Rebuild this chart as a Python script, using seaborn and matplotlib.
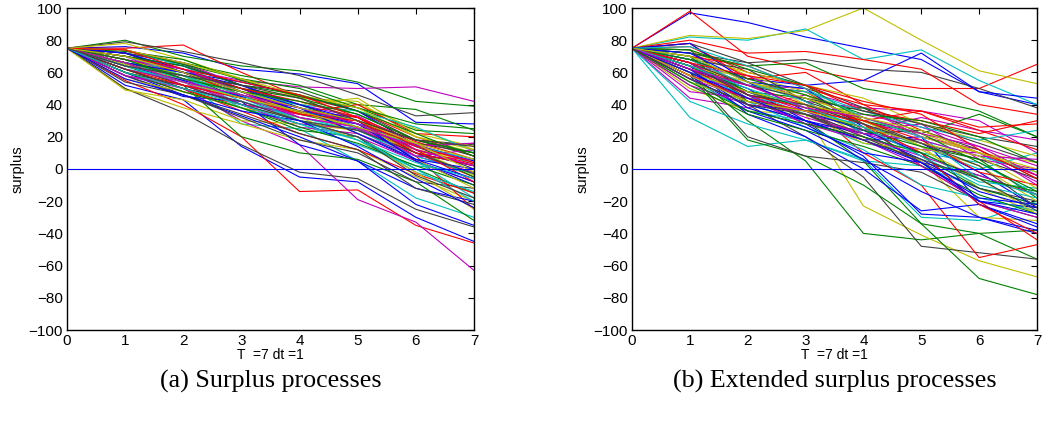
import numpy as np
import pandas as pd
import seaborn as sns
import matplotlib
matplotlib.use("Agg")
import matplotlib.pyplot as plt

sns.set_style("white")
plt.rcParams['font.family'] = ['Liberation Sans', 'DejaVu Sans']
plt.rcParams['text.color'] = 'black'
plt.rcParams['axes.labelcolor'] = 'black'
plt.rcParams['xtick.color'] = 'black'
plt.rcParams['ytick.color'] = 'black'

times = [0, 1, 2, 3, 4, 5, 6, 7]
start_value = 75
x_ticks = [0, 1, 2, 3, 4, 5, 6, 7]
y_ticks = [-100, -80, -60, -40, -20, 0, 20, 40, 60, 80, 100]
x_label = "T  =7 dt =1"
y_label = "surplus"
captions = ["(a) Surplus processes", "(b) Extended surplus processes"]
line_colors = [(0, 0, 1), (0, 0.5, 0), (1, 0, 0), (0, 0.75, 0.75),
               (0.75, 0, 0.75), (0.75, 0.75, 0), (0.25, 0.25, 0.25)]
zero_level = [0, 0]

# surplus paths, values at t = 1..7 (t = 0 is 75 for all)
paths_a = [
    [76, 72, 62, 59, 53, 29, 28], [80, 70, 64, 61, 54, 42, 39], [75, 77, 60, 45, 36, 20, 8],
    [68, 58, 40, 30, 25, 10, 2], [70, 62, 55, 51, 50, 51, 42], [65, 58, 50, 45, 40, 25, 12],
    [79, 73, 66, 58, 46, 33, 35], [52, 43, 14, -5, -8, -30, -45], [72, 66, 58, 52, 40, 37, 24],
    [55, 40, 20, -14, -13, -35, -46], [62, 55, 28, 25, 5, -18, -30], [60, 50, 30, 15, -19, -33, -63],
    [50, 38, 28, 18, 12, -5, -20], [50, 35, 15, -2, -6, -25, -36], [66, 60, 52, 38, 22, 5, -10],
    [62, 50, 38, 24, 20, 0, -15], [60, 48, 40, 35, 28, 10, -5], [70, 62, 45, 40, 26, 15, 3],
    [64, 56, 48, 35, 33, 15, 16], [78, 68, 56, 44, 42, 20, 10], [72, 65, 52, 48, 36, 18, 8],
    [58, 45, 42, 15, 5, -22, -35], [73, 68, 55, 45, 38, 24, 22], [66, 52, 46, 35, 30, 8, -25],
    [68, 55, 48, 38, 25, 5, -18], [74, 66, 52, 40, 32, 12, 2], [49, 43, 30, 28, 24, 12, 5],
    [70, 60, 46, 38, 30, 18, 15], [60, 46, 33, 20, 5, -12, -20], [64, 52, 20, 10, 6, -8, -32],
    [72, 60, 50, 35, 40, 22, 20], [62, 56, 38, 28, 15, 2, -2], [58, 50, 42, 30, 20, 5, -8],
    [64, 56, 50, 40, 44, 22, 14], [58, 46, 32, 18, 10, -8, -12], [72, 60, 54, 46, 36, 15, 5],
    [68, 58, 44, 34, 26, 12, -5], [62, 50, 36, 22, 12, -3, -15], [74, 64, 48, 40, 36, 26, 11],
    [66, 52, 40, 28, 25, 8, -2], [60, 52, 44, 35, 26, 12, -4], [66, 60, 48, 36, 30, 14, 0],
    [64, 55, 45, 38, 30, 5, -8], [74, 65, 56, 50, 38, 28, 25], [68, 60, 46, 36, 32, 17, 6],
    [66, 56, 44, 30, 20, -2, -14], [70, 56, 40, 26, 22, 8, 6], [56, 48, 38, 32, 18, -2, -25],
    [72, 60, 50, 40, 28, 16, 10], [70, 64, 52, 40, 30, 10, 2], [60, 48, 38, 26, 16, 2, -10],
    [64, 58, 46, 34, 30, 12, 3], [70, 58, 42, 32, 24, 8, -3], [62, 54, 40, 34, 28, 15, 4],
    [68, 58, 46, 36, 22, 6, -12], [54, 46, 34, 22, 12, -12, -22], [72, 62, 50, 38, 22, 6, 0],
    [66, 58, 50, 44, 34, 18, 10], [70, 62, 50, 42, 32, 12, -8], [64, 54, 44, 36, 28, 14, 6],
    [58, 52, 44, 32, 26, 8, 12], [74, 66, 56, 46, 38, 20, 12], [60, 52, 40, 30, 24, 10, -3],
    [66, 60, 48, 36, 28, 6, -6], [70, 64, 52, 46, 36, 22, 8], [62, 52, 44, 34, 30, 10, 2],
    [64, 58, 46, 30, 18, 0, -20], [68, 62, 48, 32, 26, 14, 16], [66, 54, 44, 36, 26, 16, 6],
    [62, 50, 42, 30, 20, -4, -18], [56, 46, 36, 30, 14, -6, -24], [68, 56, 48, 42, 34, 18, 10],
    [74, 62, 54, 46, 32, 14, 4], [60, 50, 40, 28, 18, 4, -6], [66, 54, 46, 38, 28, 12, 2],
    [70, 60, 48, 38, 30, 16, -2], [64, 58, 52, 44, 30, 18, 14],
]

paths_b = [
    [97, 91, 82, 75, 68, 48, 40], [70, 40, 30, 5, -34, -40, -56], [98, 70, 62, 55, 50, 50, 65],
    [82, 80, 87, 68, 74, 55, 40], [60, 52, 48, 38, 36, 30, 10], [83, 81, 86, 100, 80, 61, 53],
    [78, 66, 68, 62, 60, 50, 38], [68, 56, 52, 55, 72, 48, 44], [60, 30, 5, -40, -44, -40, -38],
    [80, 72, 73, 68, 62, 40, 34], [32, 14, 18, 5, 2, -12, -22], [44, 38, 46, 30, 20, 12, -10],
    [50, 36, 34, -23, -41, -57, -67], [64, 40, 20, -5, -48, -52, -56], [66, 46, 28, 8, -28, -30, -40],
    [58, 18, 8, -10, -34, -68, -78], [62, 52, 40, 10, -10, -55, -47], [42, 28, 18, 6, -30, -32, -20],
    [72, 58, 42, 38, 20, 10, -4], [74, 58, 40, 20, 5, -30, -32], [72, 66, 52, 38, 28, 20, 14],
    [64, 34, 20, 0, -26, -22, -34], [72, 64, 66, 50, 44, 36, 20], [64, 52, 48, 28, 2, -20, -44],
    [56, 36, 30, 16, 10, 4, -16], [48, 44, 28, 24, 32, 24, 18], [66, 48, 40, 30, 14, -12, -28],
    [60, 20, 8, 4, -2, -20, -30], [62, 50, 30, 18, 20, -20, -24], [70, 42, 36, 38, 22, 34, 20],
    [78, 56, 60, 40, 24, 10, -4], [54, 42, 26, 12, -10, -18, -26], [68, 52, 50, 24, 28, 6, 0],
    [62, 58, 48, 32, 20, 10, 4], [74, 46, 34, 20, 4, -4, -16], [58, 36, 24, 6, -14, -30, -38],
    [66, 48, 44, 28, 8, -12, -22], [76, 60, 52, 36, 30, 22, 30], [60, 48, 34, 28, 14, 0, 10],
    [64, 58, 42, 22, 12, 10, -8], [70, 60, 52, 44, 28, 18, 8], [66, 44, 34, 26, 4, -12, -20],
    [78, 54, 50, 26, 16, -2, -24], [52, 34, 24, 14, 2, -16, -28], [70, 64, 50, 40, 36, 26, 28],
    [62, 44, 40, 28, 10, -8, -12], [58, 48, 36, 34, 26, 14, 2], [54, 42, 34, 16, 12, -6, -28],
    [68, 62, 42, 30, 16, 6, -6], [56, 40, 30, 22, 6, -14, -24], [74, 62, 52, 30, 22, 4, -14],
    [66, 46, 40, 30, 36, 24, 12], [70, 54, 42, 22, 18, 8, -2], [52, 40, 36, 20, 8, -4, -16],
    [64, 54, 46, 30, 14, 2, -20], [60, 42, 34, 22, 24, 12, -6], [72, 54, 36, 24, 10, -22, -36],
    [64, 48, 38, 24, 14, 6, -18], [62, 46, 38, 28, 10, -22, -40], [68, 52, 48, 36, 26, 18, 24],
    [56, 44, 28, 18, 2, -20, -30], [60, 48, 40, 32, 22, 10, -2], [66, 52, 44, 36, 28, 16, 4],
    [62, 38, 26, 10, 4, -18, -22], [68, 56, 46, 34, 30, 20, 4], [58, 44, 36, 30, 18, -2, -10],
    [76, 64, 50, 32, 20, -6, -16], [66, 46, 32, 22, 18, 8, 6], [58, 42, 36, 26, 16, 8, -12],
    [64, 46, 40, 28, 16, 2, -24], [60, 44, 30, 18, 4, -20, -28], [54, 36, 28, 20, 10, -6, -14],
    [66, 58, 52, 42, 34, 12, -6], [64, 50, 38, 26, 8, -10, -18], [62, 52, 38, 32, 22, 14, -4],
    [70, 54, 44, 32, 24, 10, 0], [56, 40, 34, 18, 6, -6, -26],
]


def to_long(paths):
    rows = []
    for i, p in enumerate(paths):
        vals = [start_value] + list(p)
        for t, v in zip(times, vals):
            rows.append({"path": i, "t": t, "surplus": v})
    return pd.DataFrame(rows)


fig = plt.figure(figsize=(10.47, 4.26), dpi=100)
ax_a = fig.add_axes([67 / 1047, 1 - 330 / 426, (474 - 67) / 1047, (330 - 8) / 426])
ax_b = fig.add_axes([632 / 1047, 1 - 330 / 426, (1037 - 632) / 1047, (330 - 8) / 426])

for ax, paths, cap in [(ax_a, paths_a, captions[0]), (ax_b, paths_b, captions[1])]:
    df = to_long(paths)
    pal = [line_colors[i % 7] for i in range(len(paths))]
    sns.lineplot(data=df, x="t", y="surplus", hue="path", palette=pal,
                 legend=False, ax=ax, linewidth=0.8, estimator=None, sort=False)
    ax.plot([times[0], times[-1]], zero_level, color="#0000ff", linewidth=0.8, zorder=3)
    ax.set_xlim(0, 7)
    ax.set_ylim(-100, 100)
    ax.set_xticks(x_ticks)
    ax.set_yticks(y_ticks)
    ax.set_yticklabels([str(v).replace("-", "\u2212") for v in y_ticks])
    ax.tick_params(direction="in", length=4, width=0.8, labelsize=11,
                   top=True, right=True, pad=3, colors="black")
    ax.set_xlabel(x_label, fontsize=10, labelpad=0, color="black")
    ax.set_ylabel(y_label, fontsize=10.5, labelpad=3, color="black")
    for s in ax.spines.values():
        s.set_linewidth(1.0)
        s.set_color("black")
    pos = ax.get_position()
    fig.text(pos.x0 + pos.width / 2, 1 - 381 / 426, cap, ha="center", va="center",
             fontsize=18.7, color="black", family=["Liberation Serif", "DejaVu Serif"])

fig.savefig("out.png", dpi=100)
